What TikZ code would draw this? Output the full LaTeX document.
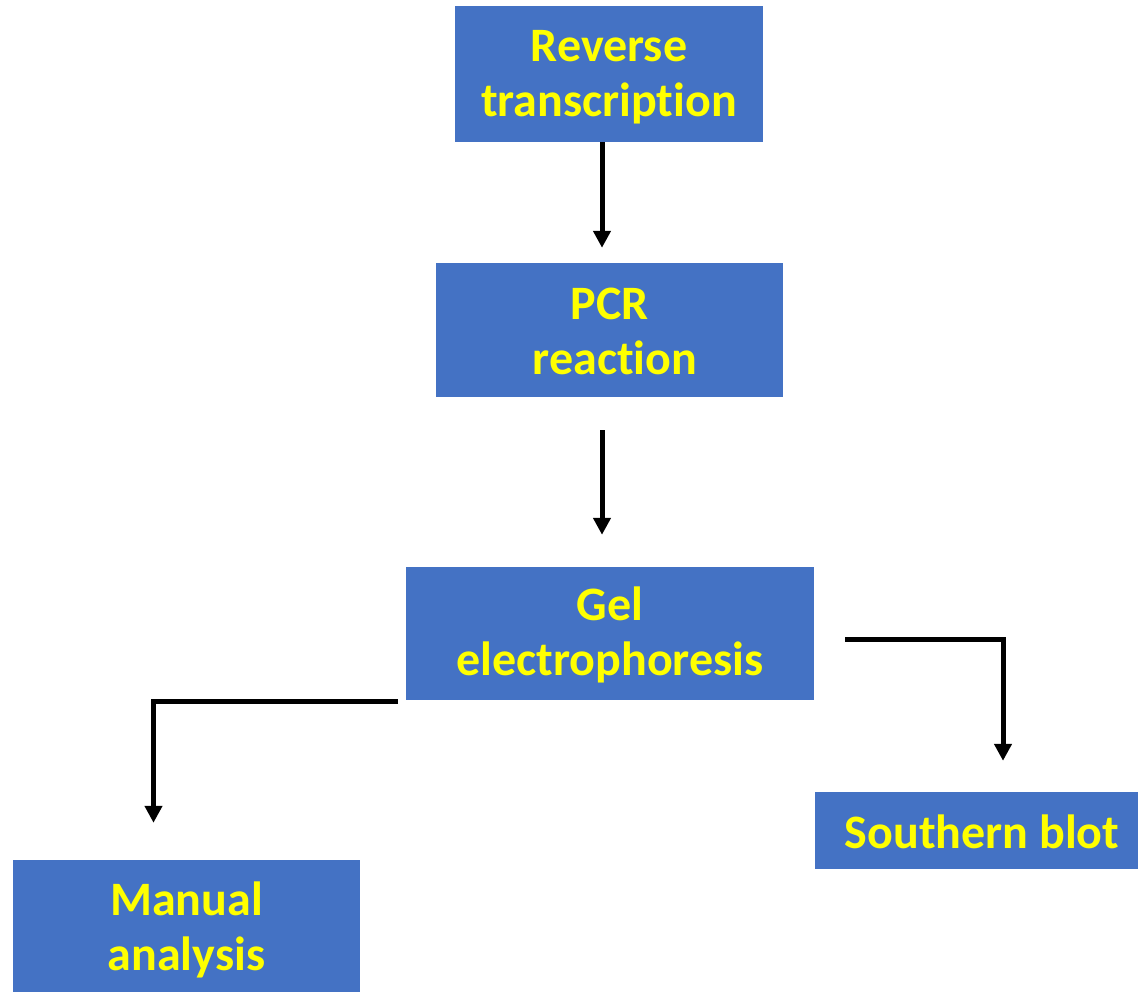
\documentclass[tikz,border=0pt]{standalone}
\usepackage{fontspec}
\setmainfont{Carlito}[Ligatures={NoCommon}]
\usetikzlibrary{arrows.meta,calc}
\definecolor{boxblue}{HTML}{4472C4}
\definecolor{labelyellow}{HTML}{FFFF00}
\tikzset{
  stepbox/.style={rectangle, fill=boxblue, draw=none, inner sep=0pt},
  steptext/.style={inner sep=0pt, align=center, text=labelyellow,
    font=\fontsize{48}{55}\selectfont\bfseries},
  flow/.style={line width=5pt, draw=black,
    -{Triangle[width=17pt,length=17pt]}}
}
\begin{document}
\begin{tikzpicture}[x=1pt,y=-1pt]
  \useasboundingbox (0,0) rectangle (1138,993);
  % process boxes
  \node[stepbox, minimum width=308pt, minimum height=136pt] (rt) at (609,74) {};
  \node[stepbox, minimum width=347pt, minimum height=134pt] (pcr) at (609.5,330) {};
  \node[stepbox, minimum width=408pt, minimum height=133pt] (gel) at (610,633.5) {};
  \node[stepbox, minimum width=347pt, minimum height=132pt] (man) at (186.5,926) {};
  \node[stepbox, minimum width=323pt, minimum height=77pt] (sb) at (976.5,830.5) {};
  % box labels
  \node[steptext] (rt-t) at ($(rt)+(0,3.5)$) {Reverse\\transcription};
  \node[steptext] (pcr-t) at ($(pcr)+(0,1.5)$) {PCR\\~reaction};
  \node[steptext] (gel-t) at ($(gel)+(0,1.5)$) {Gel\\electrophoresis};
  \node[steptext] (man-t) at ($(man)+(0,3.5)$) {Manual\\analysis};
  \node[steptext] (sb-t) at ($(sb)+(0,1.5)$) {~Southern blot};
  % straight connectors
  \draw[flow, shorten >=15pt] ($(rt.south)+(-7,0)$) -- ($(pcr.north)+(-7.5,0)$);
  \draw[flow, shorten <=33pt, shorten >=32pt] ($(pcr.south)+(-7.5,0)$) -- ($(gel.north)+(-8,0)$);
  % branch connectors
  \coordinate (lstart) at (398,701.5);
  \coordinate (lcorner) at (153.5,701.5);
  \coordinate (rstart) at (845,639.5);
  \coordinate (rcorner) at (1003,639.5);
  \draw[flow, shorten >=37pt] (lstart) -- (lcorner) -- (lcorner |- man.north);
  \draw[flow, shorten >=31pt] (rstart) -- (rcorner) -- (rcorner |- sb.north);
\end{tikzpicture}
\end{document}
